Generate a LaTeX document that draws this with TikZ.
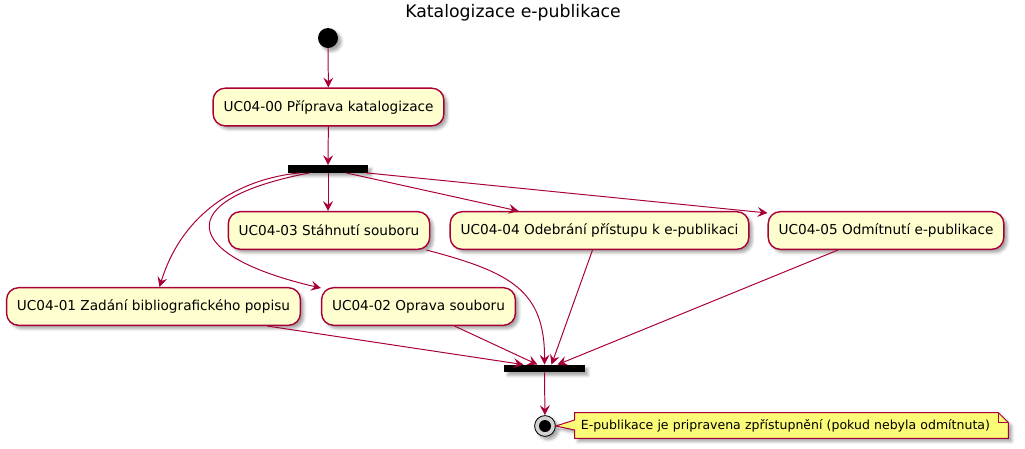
\documentclass[tikz,border=0pt]{standalone}
\usepackage{fontspec}
\setmainfont{DejaVu Sans}
\usepackage{xcolor}
\usepackage{tikz}
\usetikzlibrary{arrows.meta,calc,positioning,shadows.blur}
\definecolor{umlred}{HTML}{A80036}
\definecolor{umlfill}{HTML}{FEFECE}
\definecolor{umlnote}{HTML}{FBFB77}

\begin{document}
\begin{tikzpicture}[
    x=0.025cm, y=-0.025cm,
    shade/.style={blur shadow={shadow xshift=2.4pt, shadow yshift=-2.4pt, shadow blur radius=2pt, shadow opacity=35}},
    activity/.style={
        rectangle, rounded corners=0.3cm, draw=umlred, fill=umlfill, line width=1pt,
        minimum height=0.94cm, inner xsep=0.26cm, font=\fontsize{9.7}{11}\selectfont, shade},
    bar/.style={rectangle, fill=black, minimum width=2cm, minimum height=0.18cm, inner sep=0, shade},
    notetext/.style={text width=10.53cm, align=left, inner xsep=0.15cm, inner ysep=0, minimum height=0.625cm, font=\fontsize{8.9}{10}\selectfont},
    flow/.style={draw=umlred, line width=0.7pt, -{Stealth[length=7pt,width=7pt,inset=2.6pt]}}]
\useasboundingbox (0,0) rectangle (1025,448);

\node (title) at (513,13) {\fontsize{12.3}{14}\selectfont Katalogizace e-publikace};

\node[circle, fill=black, minimum size=0.5cm, inner sep=0, shade] (start) at (328,38) {};
\node[activity] (uc00) at (328.5,107) {UC04-00 Příprava katalogizace};
\node[bar] (fork) at (328,169) {};

\node[activity] (uc03) at (329,230.5) {UC04-03 Stáhnutí souboru};
\node[activity] (uc04) at (599.5,230.5) {UC04-04 Odebrání přístupu k e-publikaci};
\node[activity] (uc05) at (886,230.5) {UC04-05 Odmítnutí e-publikace};
\node[activity] (uc01) at (153.5,306.5) {UC04-01 Zadání bibliografického popisu};
\node[activity] (uc02) at (418.5,306.5) {UC04-02 Oprava souboru};

\node[bar] (join) at (544.5,368.5) {};
\node[circle, draw=black, line width=0.6pt, fill=gray!35, minimum size=0.52cm, inner sep=0, shade,
    path picture={\fill[black] (path picture bounding box.center) circle (0.15cm);}] (stop) at (545,426) {};

% note
\node[notetext] (note) at (791.5,425.5) {};
\path[fill=umlnote, draw=umlred, line width=0.7pt, shade]
    (note.north west) -- ($(note.north east)+(-10,0)$) -- ($(note.north east)+(0,10)$)
    -- (note.south east) -- (note.south west) -- ($(note.west)+(0,4.5)$) -- (stop.east)
    -- ($(note.west)+(0,-5.5)$) -- cycle;
\draw[draw=umlred, line width=0.7pt] ($(note.north east)+(-10,0)$) -- ($(note.north east)+(-10,10)$) -- ($(note.north east)+(0,10)$);
\node[notetext] (notelabel) at (note) {E-publikace je pripravena zpřístupnění (pokud nebyla odmítnuta)};

\draw[flow] (start) -- (uc00);
\draw[flow] (uc00) -- (fork);
\draw[flow] (fork) -- (fork.south |- uc03.north);
\draw[flow] ($(fork.south)+(18,0)$) -- ($(uc04.north west)+(69,0)$);
\draw[flow] ($(fork.south east)+(-2,0)$) -- ($(uc05.north west)+(0,2)$);
\draw[flow] ($(fork.south west)+(12,0)$) .. controls (230,180) and (180,220) .. ($(uc01.north)+(6,0)$);
\draw[flow] ($(fork.south west)+(22,0)$) .. controls (168,200) and (182,256) .. ($(uc02.north west)+(0,1)$);

\draw[flow] ($(uc01.south east)+(-34,0)$) -- ($(join.north)+(-21,0)$);
\draw[flow] ($(uc02.south)+(36,0)$) -- ($(join.north)+(-7,0)$);
\draw[flow] ($(uc03.south east)+(-4,0)$) .. controls (510,272) and (545,290) .. (join.north);
\draw[flow] ($(uc04.south)+(-7,0)$) -- ($(join.north)+(7,0)$);
\draw[flow] ($(uc05.south)+(-48,0)$) -- ($(join.north)+(13,0)$);
\draw[flow] (join) -- (stop);

\end{tikzpicture}
\end{document}
